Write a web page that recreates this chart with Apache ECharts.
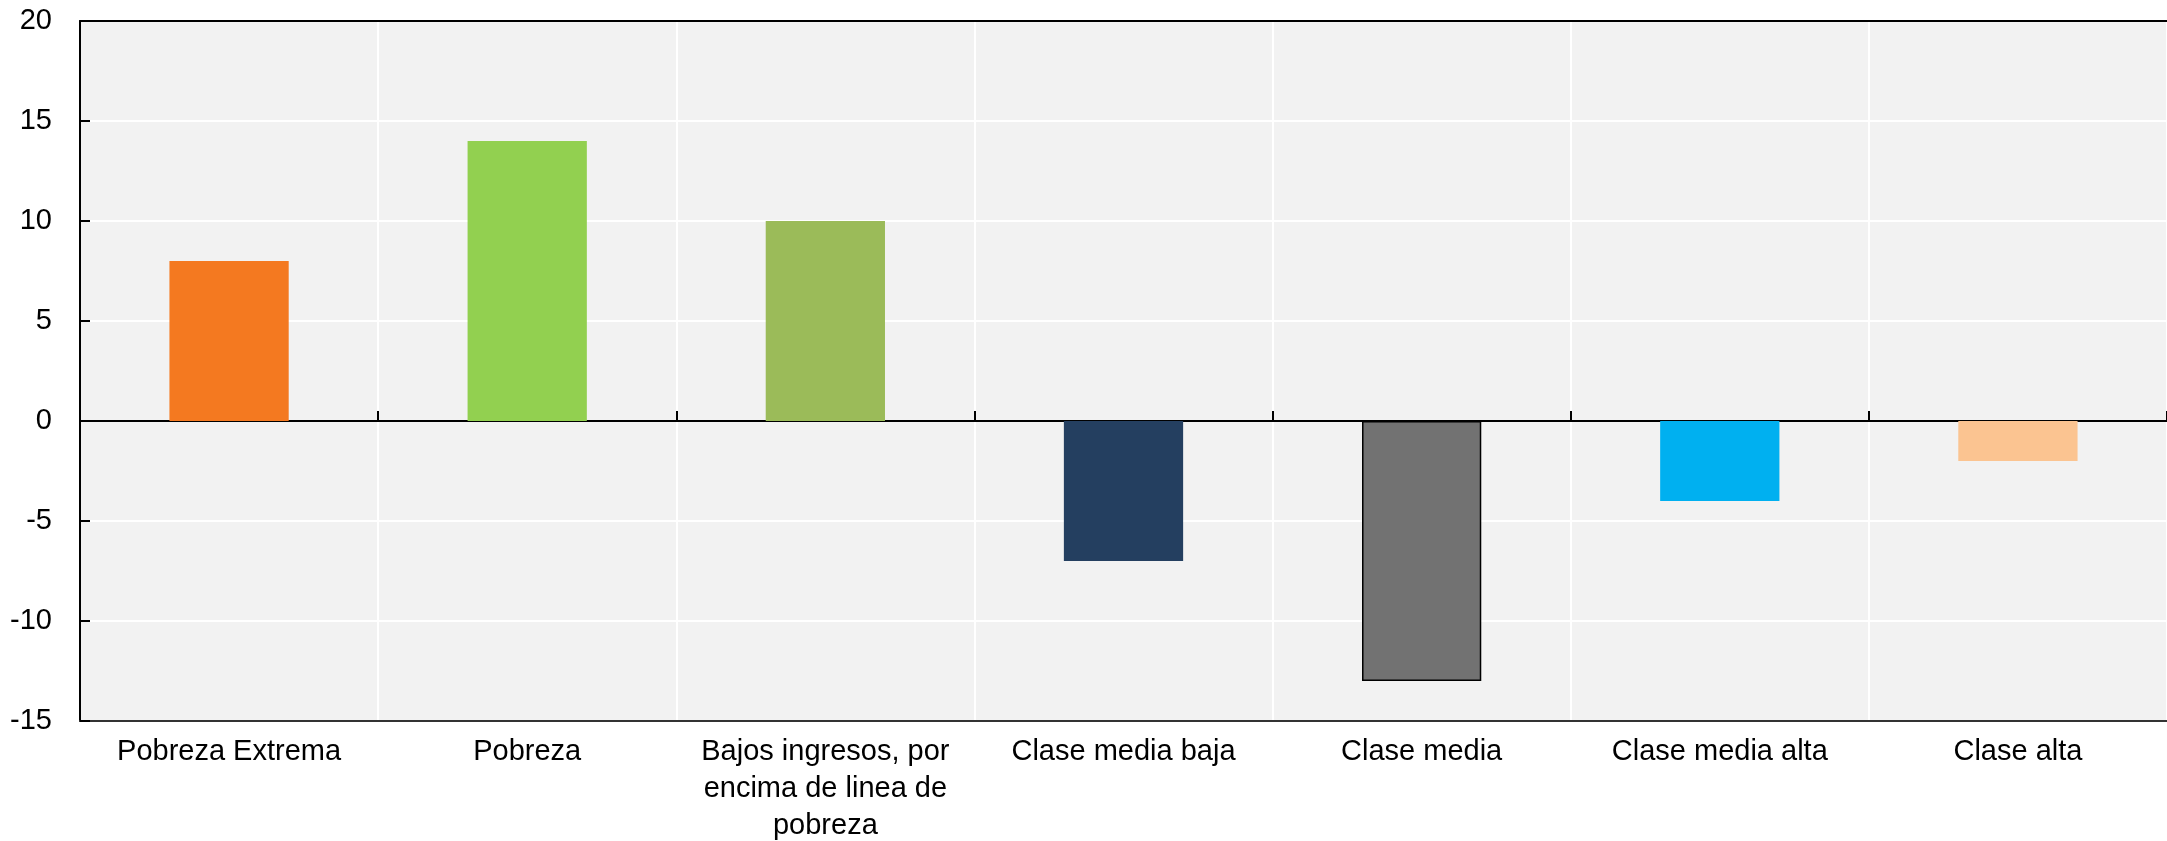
<!DOCTYPE html>
<html>
<head>
<meta charset="utf-8">
<script src="https://cdn.jsdelivr.net/npm/echarts@6/dist/echarts.min.js"></script>
<style>
html,body{margin:0;padding:0;background:#fff;}
#chart{width:2167px;height:841px;}
</style>
</head>
<body>
<div id="chart"></div>
<script>
var categories = ["Pobreza Extrema", "Pobreza", "Bajos ingresos, por\nencima de linea de\npobreza", "Clase media baja", "Clase media", "Clase media alta", "Clase alta"];
var values = [8, 14, 10, -7, -13, -4, -2];
var barColors = ["#f47920", "#92d050", "#9bbb59", "#243f60", "#727272", "#00b0f0", "#fbc491"];
var barBorders = [null, null, null, null, "#000000", null, null];
var yTicks = { min: -15, max: 20, interval: 5 };

var FONT = "'Liberation Sans Narrow', 'Arial Narrow', 'Liberation Sans', Arial, sans-serif";

var chart = echarts.init(document.getElementById('chart'), null, { renderer: 'canvas' });

var seriesData = values.map(function (v, i) {
  var item = { value: v, itemStyle: { color: barColors[i] } };
  if (barBorders[i]) { item.itemStyle.borderColor = barBorders[i]; item.itemStyle.borderWidth = 1.5; }
  return item;
});

chart.setOption({
  animation: false,
  backgroundColor: '#ffffff',
  grid: {
    left: 80, right: 0, top: 21, bottom: 120,
    containLabel: false, outerBoundsMode: 'none',
    show: true, backgroundColor: '#f2f2f2', borderWidth: 0
  },
  xAxis: [
    {
      type: 'category', data: categories, position: 'bottom',
      axisLine: { onZero: false, lineStyle: { color: '#333333', width: 2 } },
      axisTick: { show: false },
      axisLabel: { color: '#000', fontFamily: FONT, fontSize: 29, lineHeight: 37, margin: 12, interval: 0 },
      splitLine: { show: true, lineStyle: { color: '#ffffff', width: 2 } }
    },
    {
      type: 'category', data: categories, position: 'bottom',
      axisLine: { onZero: true, lineStyle: { color: '#000000', width: 2 } },
      axisTick: { show: true, inside: true, length: 10, lineStyle: { color: '#000', width: 2 } },
      axisLabel: { show: false },
      splitLine: { show: false }
    },
    {
      type: 'category', data: categories, position: 'top',
      axisLine: { onZero: false, lineStyle: { color: '#000000', width: 2 } },
      axisTick: { show: false },
      axisLabel: { show: false },
      splitLine: { show: false }
    }
  ],
  yAxis: {
    type: 'value', min: yTicks.min, max: yTicks.max, interval: yTicks.interval,
    axisLine: { show: true, lineStyle: { color: '#000', width: 2 } },
    axisTick: { show: true, inside: true, length: 10, lineStyle: { color: '#000', width: 2 } },
    axisLabel: { color: '#000', fontFamily: FONT, fontSize: 29, margin: 28 },
    splitLine: { show: true, lineStyle: { color: '#ffffff', width: 2 } }
  },
  series: [{
    type: 'bar', xAxisIndex: 0, data: seriesData, barWidth: '40%'
  }]
});
</script>
</body>
</html>
